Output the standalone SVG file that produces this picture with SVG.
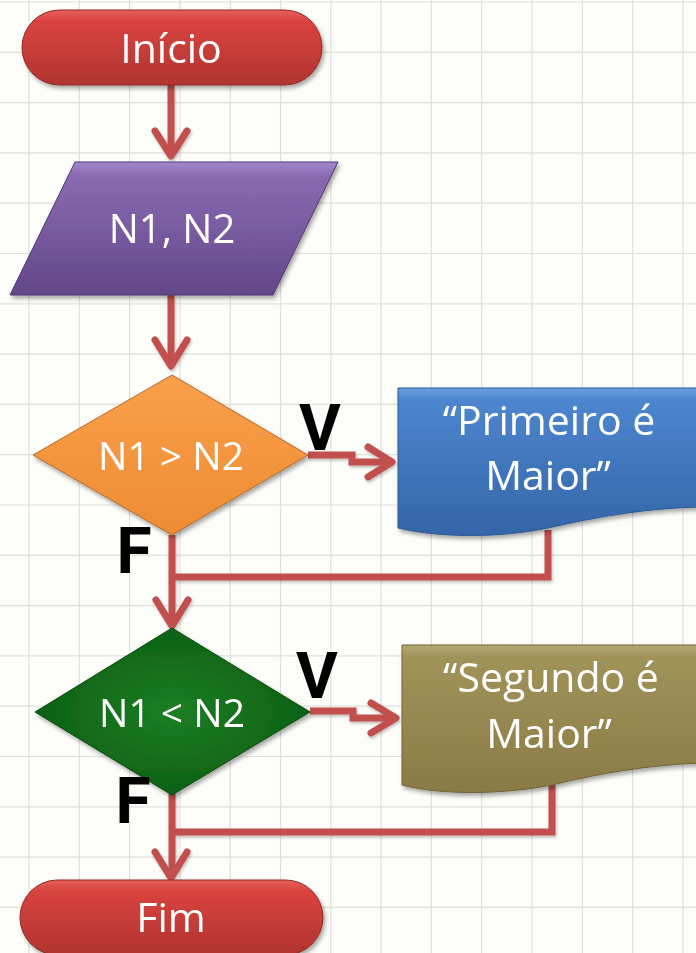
<svg xmlns="http://www.w3.org/2000/svg" width="696" height="953" viewBox="0 0 696 953">
<style>
.grid{stroke:#e0e0db;stroke-width:1.2;fill:none}
.lbl{font-family:"Open Sans","Liberation Sans",sans-serif;fill:#ffffff;text-anchor:middle}
.big{font-size:41px}
.vf{font-family:"Roboto","Liberation Sans",sans-serif;font-weight:bold;font-size:64px;fill:#000;text-anchor:middle}
.con{fill:none;stroke:#c0504d;stroke-width:7;stroke-linejoin:miter;stroke-linecap:butt}
.head{fill:none;stroke:#c0504d;stroke-width:7;stroke-linejoin:round;stroke-linecap:round}
.shape{filter:url(#sh)}
</style>
<defs>
<filter id="sh" x="-10%" y="-10%" width="125%" height="130%">
<feDropShadow dx="2" dy="3" stdDeviation="2" flood-color="#000" flood-opacity="0.35"/>
</filter>
<filter id="lsh" x="-10%" y="-10%" width="125%" height="130%">
<feDropShadow dx="1" dy="2" stdDeviation="1.5" flood-color="#000" flood-opacity="0.25"/>
</filter>
<linearGradient id="gRed" x1="0" y1="0" x2="0" y2="1">
<stop offset="0" stop-color="#e6615b"/><stop offset="0.15" stop-color="#d9433f"/><stop offset="1" stop-color="#b13431"/>
</linearGradient>
<linearGradient id="gPur" x1="0" y1="0" x2="0" y2="1">
<stop offset="0" stop-color="#a387cc"/><stop offset="0.1" stop-color="#8a6bb3"/><stop offset="1" stop-color="#634789"/>
</linearGradient>
<linearGradient id="gOra" x1="0" y1="0" x2="0" y2="1">
<stop offset="0" stop-color="#f9a04a"/><stop offset="1" stop-color="#ee8c34"/>
</linearGradient>
<radialGradient id="gGrn" cx="0.5" cy="0.5" r="0.6">
<stop offset="0" stop-color="#1c7f24"/><stop offset="1" stop-color="#0b5a12"/>
</radialGradient>
<linearGradient id="gBlu" x1="0" y1="0" x2="0" y2="1">
<stop offset="0" stop-color="#6ea0dc"/><stop offset="0.08" stop-color="#4d86cf"/><stop offset="1" stop-color="#3465a8"/>
</linearGradient>
<linearGradient id="gOli" x1="0" y1="0" x2="0" y2="1">
<stop offset="0" stop-color="#b5a874"/><stop offset="0.08" stop-color="#a09359"/><stop offset="1" stop-color="#8a7b45"/>
</linearGradient>
</defs>
<rect width="696" height="953" fill="#fdfdf9"/>
<g id="grid">
<path class="grid" d="M29,0V953M79.3,0V953M129.6,0V953M179.9,0V953M230.2,0V953M280.5,0V953M330.8,0V953M381.1,0V953M431.4,0V953M481.7,0V953M532,0V953M582.3,0V953M632.6,0V953M682.9,0V953"/>
<path class="grid" d="M0,2H696M0,52.3H696M0,102.6H696M0,152.9H696M0,203.2H696M0,253.5H696M0,303.8H696M0,354.1H696M0,404.4H696M0,454.7H696M0,505H696M0,555.3H696M0,605.6H696M0,655.9H696M0,706.2H696M0,756.5H696M0,806.8H696M0,857.1H696M0,907.4H696"/>
</g>
<g id="connectors" filter="url(#lsh)">
<path class="con" d="M171,85V155"/>
<path class="head" d="M155,131L171,156L187,131"/>
<path class="con" d="M171,295V365"/>
<path class="head" d="M155,340L171,366L187,340"/>
<path class="con" d="M308,455H352V462H390"/>
<path class="head" d="M368,447L392,462L368,477"/>
<path class="con" d="M548,530V577H172"/>
<path class="con" d="M172,535V624"/>
<path class="head" d="M156,600L172,626L188,600"/>
<path class="con" d="M310,711H353V718H394"/>
<path class="head" d="M371,703L396,718L371,733"/>
<path class="con" d="M552,785V832H172"/>
<path class="con" d="M172,793V876"/>
<path class="head" d="M155,852L171,878L187,852"/>
</g>
<g id="inicio" class="shape">
<rect x="22" y="10" width="300" height="75" rx="37.5" fill="url(#gRed)" stroke="#8f2b28" stroke-width="1"/>
<text class="lbl big" x="171" y="63">Início</text>
</g>
<g id="entrada" class="shape">
<polygon points="75,162 338,162 273,295 10,295" fill="url(#gPur)" stroke="#4f3870" stroke-width="1"/>
<text class="lbl" font-size="40" x="172" y="243">N1, N2</text>
</g>
<g id="decisao1" class="shape">
<polygon points="172,375 308,455 172,535 33,455" fill="url(#gOra)" stroke="#b8682a" stroke-width="1"/>
<text class="lbl" font-size="39" x="171" y="470">N1 &gt; N2</text>
</g>
<text class="vf" x="320" y="450">V</text>
<text class="vf" x="134" y="573">F</text>
<g id="saida1" class="shape">
<path d="M398,388H700V507C650,508 600,516 548,528C500,538 440,538 398,528Z" fill="url(#gBlu)" stroke="#2d5a94" stroke-width="1"/>
<text class="lbl big" x="549" y="435">“Primeiro é</text>
<text class="lbl big" x="548" y="490">Maior”</text>
</g>
<g id="decisao2" class="shape">
<polygon points="172,628 310,712 172,795 35,712" fill="url(#gGrn)" stroke="#0a4a10" stroke-width="1"/>
<text class="lbl" font-size="39" x="172" y="727">N1 &lt; N2</text>
</g>
<text class="vf" x="317" y="698">V</text>
<text class="vf" x="133" y="823">F</text>
<g id="saida2" class="shape">
<path d="M402,645H700V763C650,765 600,773 552,785C500,795 440,795 402,785Z" fill="url(#gOli)" stroke="#6f6335" stroke-width="1"/>
<text class="lbl big" x="551" y="692">“Segundo é</text>
<text class="lbl big" x="549" y="748">Maior”</text>
</g>
<g id="fim" class="shape">
<rect x="20" y="880" width="303" height="75" rx="37.5" fill="url(#gRed)" stroke="#8f2b28" stroke-width="1"/>
<text class="lbl big" x="171" y="932">Fim</text>
</g>
</svg>
